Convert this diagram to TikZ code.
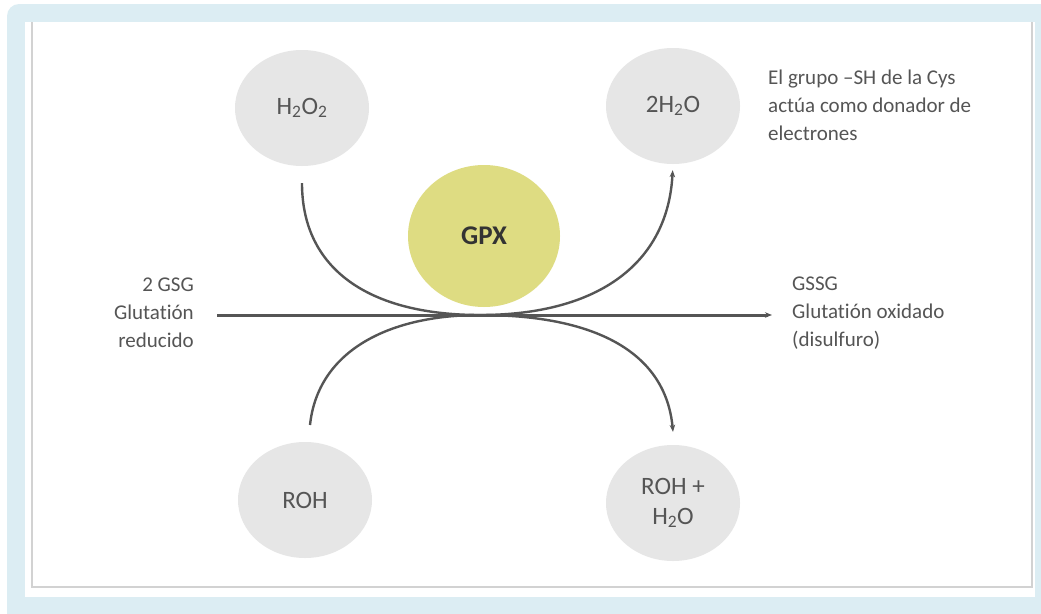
\documentclass[tikz,border=0pt]{standalone}
\usepackage{fontspec}
\setmainfont{Carlito}[Ligatures={NoCommon}]
\usetikzlibrary{shapes.geometric,arrows.meta}
\definecolor{framebl}{HTML}{DCEDF3}
\definecolor{bubble}{HTML}{E6E6E6}
\definecolor{enzyme}{HTML}{DEDC82}
\definecolor{ink}{HTML}{555555}
\definecolor{txt}{HTML}{555555}
\definecolor{rim}{HTML}{D2D2D2}
\tikzset{
  x=1pt, y=-1pt,
  bubblenode/.style={ellipse, fill=bubble, inner sep=0pt,
    minimum width=134pt, minimum height=116pt, text=txt,
    font=\fontsize{25}{30}\selectfont, align=center},
  enzymenode/.style={ellipse, fill=enzyme, inner sep=0pt,
    minimum width=152pt, minimum height=142pt, text=black!80,
    font=\bfseries\fontsize{27}{30}\selectfont},
  note/.style={text=txt, font=\fontsize{21}{28}\selectfont, inner sep=0pt},
  flow/.style={draw=ink, line width=2.4pt},
  tip/.style={-{Stealth[length=7pt,width=5.5pt]}},
}
\begin{document}
\begin{tikzpicture}
\useasboundingbox (0,0) rectangle (1041,613);
% frame and panel
\fill[framebl, rounded corners=12pt] (7,4) rectangle (1060,630);
\fill[white] (25,22) rectangle (1035,597);
\draw[rim, line width=1.5pt] (32,22) -- (32,587) -- (1032,587) -- (1032,22);

% species
\node[bubblenode] (h2o2) at (302,108) {H\textsubscript{2}O\textsubscript{2}};
\node[bubblenode] (water) at (673,106) {2H\textsubscript{2}O};
\node[enzymenode] (gpx) at (484,236) {GPX};
\node[bubblenode] (roh) at (305,500) {ROH};
\node[bubblenode] (rohw) at (673,503) {ROH +\\H\textsubscript{2}O};

% side labels
\node[note, anchor=east, align=right] (gsg) at (194,313) {2 GSG\\Glutatión\\reducido};
\node[note, anchor=west, align=left] (gssg) at (792,313) {GSSG\\Glutatión oxidado\\(disulfuro)};
\node[note, anchor=west, align=left] (cys) at (768,105) {El grupo –SH de la Cys\\actúa como donador de\\electrones};

% reaction paths
\coordinate (mid) at (480,315);
\coordinate (rohtop) at (310,425);
\draw[flow, tip, shorten <=17pt, shorten >=6pt]
  (h2o2.south) .. controls (302,270) and (370,315) .. (mid)
  .. controls (600,315) and (668,262) .. (water.south);
\draw[flow, tip]
  (rohtop) .. controls (318,350) and (390,315) .. (mid)
  .. controls (600,315) and (666,355) .. ([yshift=13pt]rohw.north);
\draw[flow, line width=3pt, tip, shorten <=23pt, shorten >=20pt] (gsg.east |- mid) -- (gssg.west |- mid);
\end{tikzpicture}
\end{document}
